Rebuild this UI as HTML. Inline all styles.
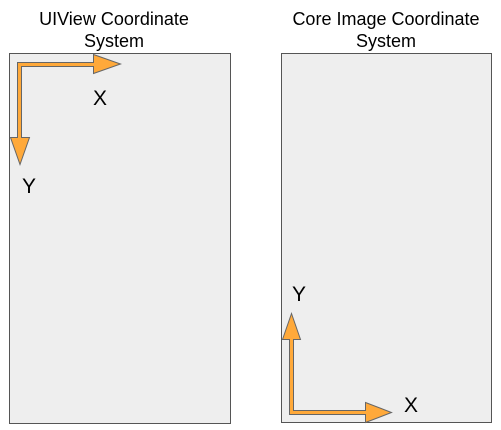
<!DOCTYPE html>
<html><head><meta charset="utf-8"><style>
html,body{margin:0;padding:0;background:#fff;}
</style></head><body>
<svg width="501" height="430" xmlns="http://www.w3.org/2000/svg" style="display:block">
<rect x="9.5" y="53.5" width="221" height="370" fill="#eeeeee" stroke="#555" stroke-width="1"/>
<rect x="281.5" y="53.5" width="210" height="369" fill="#eeeeee" stroke="#555" stroke-width="1"/>
<g font-family="Liberation Sans, sans-serif" font-size="18" fill="#000" text-anchor="middle">
<text x="114" y="25">UIView Coordinate</text>
<text x="114" y="47">System</text>
<text x="386" y="25">Core Image Coordinate</text>
<text x="386" y="47">System</text>
</g>
<g font-family="Liberation Sans, sans-serif" font-size="21" fill="#000" text-anchor="middle">
<text x="100" y="105">X</text>
<text x="29" y="193">Y</text>
<text x="299" y="301">Y</text>
<text x="411" y="412">X</text>
</g>
<g fill="#ffa93a" stroke="#666" stroke-width="1">
<path d="M17.5,62.5 H93.5 V54.5 L120.5,64 L93.5,73.5 V66.5 H21.5 V137.5 H29.5 L20,164.5 L10.5,137.5 H17.5 Z"/>
<path d="M289.5,414.5 H365.5 V422.5 L391.5,412.5 L365.5,402.5 V410.5 H293.5 V339.5 H300.5 L291.5,313.5 L282.5,339.5 H289.5 Z"/>
</g>
</svg>
</body></html>
